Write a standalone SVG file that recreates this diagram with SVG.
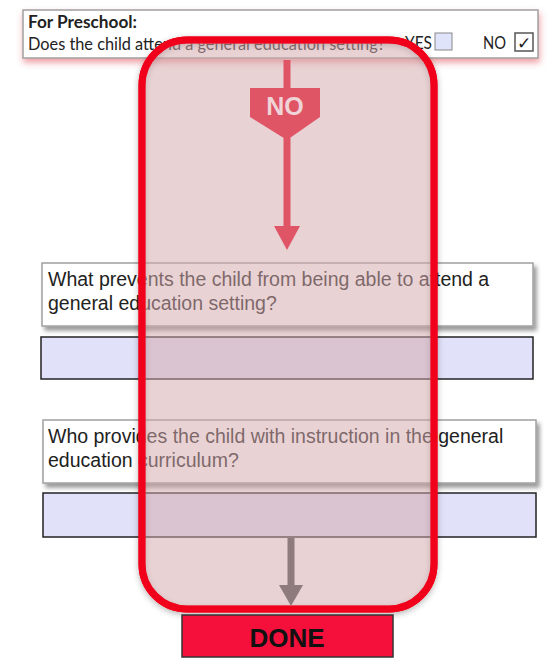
<svg xmlns="http://www.w3.org/2000/svg" width="551" height="664" viewBox="0 0 551 664">
<defs>
<style>
.q{font-family:"Liberation Sans",Arial,sans-serif;font-size:19.5px;fill:#222}
.hdr{font-family:Lato,"Open Sans",sans-serif;fill:#222;font-size:16.5px}
.qbox{fill:#fff;stroke:#a0a0a0;stroke-width:1.5}
.ans{fill:#e1e1fa;stroke:#222;stroke-width:1.5}
</style>
<filter id="pinkShadow" x="-10%" y="-30%" width="120%" height="180%">
<feDropShadow dx="1" dy="4" stdDeviation="3" flood-color="#e04050" flood-opacity="0.5"/>
</filter>
<filter id="grayShadow" x="-10%" y="-20%" width="120%" height="150%">
<feDropShadow dx="3" dy="4" stdDeviation="2" flood-color="#000" flood-opacity="0.4"/>
</filter>
<filter id="softShadow" x="-10%" y="-10%" width="120%" height="120%">
<feDropShadow dx="0" dy="2" stdDeviation="3" flood-color="#000" flood-opacity="0.3"/>
</filter>
</defs>

<g id="preschool-question">
<rect x="23" y="10" width="515" height="48" class="qbox" filter="url(#pinkShadow)"/>
<text x="28" y="28" class="hdr" font-weight="bold" textLength="109" lengthAdjust="spacingAndGlyphs">For Preschool:</text>
<text x="28" y="50" class="hdr" textLength="357" lengthAdjust="spacingAndGlyphs">Does the child attend a general education setting?</text>
<text x="405" y="49" class="hdr" textLength="27" lengthAdjust="spacingAndGlyphs">YES</text>
<rect x="435" y="33" width="17" height="17" fill="#dfe4fa" stroke="#888" stroke-width="1"/>
<text x="483" y="49" class="hdr" textLength="23" lengthAdjust="spacingAndGlyphs">NO</text>
<rect x="515" y="33" width="18" height="18" fill="#fff" stroke="#555" stroke-width="1.5"/>
<text x="517" y="49" font-family="'DejaVu Sans',sans-serif" font-size="17" font-weight="bold" fill="#222">✓</text>
</g>

<g id="question1">
<rect x="42" y="263" width="491" height="63" class="qbox" filter="url(#grayShadow)"/>
<text x="48" y="286" class="q">What prevents the child from being able to attend a</text>
<text x="48" y="310" class="q">general education setting?</text>
</g>
<g id="answer1">
<rect x="41" y="337" width="492" height="42" class="ans"/>
</g>

<g id="question2">
<rect x="43" y="420" width="493" height="63" class="qbox" filter="url(#grayShadow)"/>
<text x="48" y="443" class="q">Who provides the child with instruction in the general</text>
<text x="48" y="467" class="q">education curriculum?</text>
</g>
<g id="answer2">
<rect x="43" y="493" width="493" height="44" class="ans"/>
</g>

<g id="highlight">
<rect x="142" y="40" width="292" height="569" rx="45" ry="45" fill="none" stroke="#f0001a" stroke-width="7" filter="url(#softShadow)"/>
<rect x="142" y="40" width="292" height="569" rx="45" ry="45" fill="#d3a8ac" fill-opacity="0.52" stroke="#f0001a" stroke-width="7"/>
</g>

<g id="connectors">
<line x1="287" y1="60" x2="287" y2="90" stroke="#e05566" stroke-width="7"/>
<line x1="287" y1="138" x2="287" y2="229" stroke="#e05566" stroke-width="7"/>
<path d="M274,226 L300,226 L287,250 Z" fill="#e05566"/>
<line x1="291" y1="538" x2="291" y2="587" stroke="#8e7b7e" stroke-width="7"/>
<path d="M279,585 L303,585 L291,606 Z" fill="#8e7b7e"/>
</g>

<g id="no-label">
<path d="M250,88 L320,88 L320,117 L287,140 L250,117 Z" fill="#e05566"/>
<text x="285" y="115" text-anchor="middle" font-family="'Liberation Sans',Arial,sans-serif" font-weight="bold" font-size="25" fill="#efd3d7">NO</text>
</g>

<g id="done">
<rect x="182" y="615" width="211" height="42" fill="#f5103c" stroke="#333" stroke-width="1.5"/>
<text x="287" y="647" text-anchor="middle" font-family="'Liberation Sans',Arial,sans-serif" font-weight="bold" font-size="26" fill="#111">DONE</text>
</g>
</svg>
